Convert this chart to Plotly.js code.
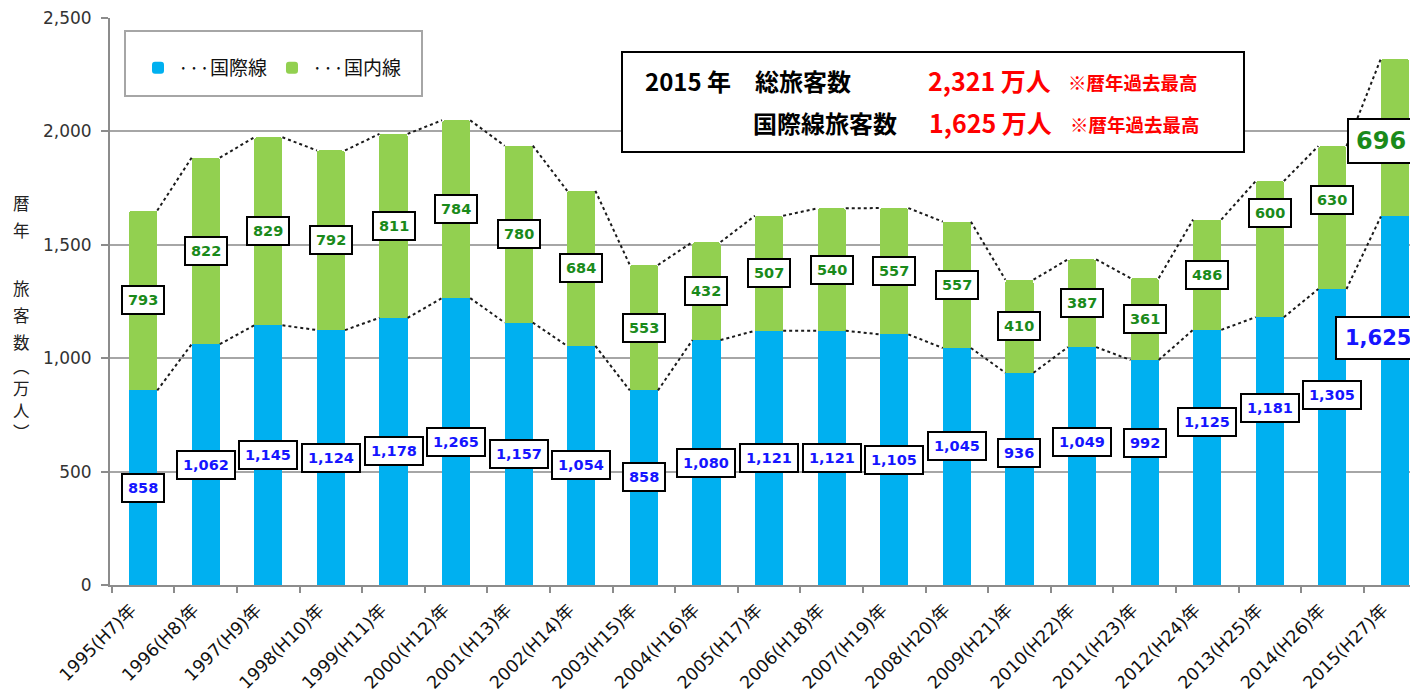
<!DOCTYPE html>
<html><head><meta charset="utf-8">
<script src="https://cdn.plot.ly/plotly-3.0.1.min.js"></script>
<style>html,body{margin:0;padding:0;background:#fff;}#chart{width:1410px;height:695px;}</style>
</head><body><div id="chart"></div>
<script>
// ---- data ----
const years = ['1995(H7)年','1996(H8)年','1997(H9)年','1998(H10)年','1999(H11)年','2000(H12)年','2001(H13)年','2002(H14)年','2003(H15)年','2004(H16)年','2005(H17)年','2006(H18)年','2007(H19)年','2008(H20)年','2009(H21)年','2010(H22)年','2011(H23)年','2012(H24)年','2013(H25)年','2014(H26)年','2015(H27)年'];
const international = [858,1062,1145,1124,1178,1265,1157,1054,858,1080,1121,1121,1105,1045,936,1049,992,1125,1181,1305,1625];
const domestic = [793,822,829,792,811,784,780,684,553,432,507,540,557,557,410,387,361,486,600,630,696];
const yTicks = [0,500,1000,1500,2000,2500];
const legendNames = ['···国際線','···国内線'];

// ---- label nudges (pixels, upward) ----
const intlNudge = [0,0,0,0,0,0,0,0,11,0,0,0,0,21,26,24,30,35,43,42,63];
const domNudge  = [0,0,0,0,0,0,0,0,0,0,0,0,0,0,0,0,0,0,36,18,-3];

const n = years.length;
const idx = years.map((_, i) => i);
const totals = international.map((v, i) => v + domestic[i]);
const BW = 0.45;
const fmt = v => v.toLocaleString('en-US');

function seriesLine(vals) {
  const xs = [], ys = [];
  for (let i = 0; i < n - 1; i++) {
    xs.push(i + BW / 2, i + 1 - BW / 2, null);
    ys.push(vals[i], vals[i + 1], null);
  }
  return {type: 'scatter', mode: 'lines', x: xs, y: ys, showlegend: false, hoverinfo: 'skip',
          line: {color: '#1a1a1a', width: 2, dash: 'dot'}};
}

const traces = [
  {type: 'bar', x: idx, y: international, name: legendNames[0], width: BW, marker: {color: '#00B0F0'}},
  {type: 'bar', x: idx, y: domestic, name: legendNames[1], width: BW, marker: {color: '#92D050'}},
  seriesLine(international),
  seriesLine(totals)
];

const annotations = [];
const last = n - 1;
const labelFamily = '"DejaVu Sans", Verdana, sans-serif';
for (let i = 0; i < n; i++) {
  const big = i === last;
  annotations.push({
    x: i, y: international[i] / 2, xref: 'x', yref: 'y', showarrow: false,
    text: '<b>' + fmt(international[i]) + '</b>',
    font: {family: labelFamily, size: big ? 21 : 14.5, color: '#1515ff'},
    bgcolor: '#ffffff', bordercolor: '#000000', borderwidth: 2, borderpad: big ? 8 : 5,
    yshift: intlNudge[i], xshift: big ? -17 : 0
  });
  annotations.push({
    x: i, y: international[i] + domestic[i] / 2, xref: 'x', yref: 'y', showarrow: false,
    text: '<b>' + fmt(domestic[i]) + '</b>',
    font: {family: labelFamily, size: big ? 24 : 14.5, color: '#1a8a1a'},
    bgcolor: '#ffffff', bordercolor: '#000000', borderwidth: 2, borderpad: big ? 7 : 5,
    yshift: domNudge[i], xshift: big ? -14 : 0
  });
}

// pixel -> paper helpers (plot area: x 110..1410, y 18..585)
const PX = px => (px - 110) / 1300;
const PY = py => (585 - py) / 567;

// vertical y-axis title
const yTitle = [['暦',203],['年',230],['旅',288],['客',315],['数',342],['︵',366],['万',388],['人',410],['︶',432]];
yTitle.forEach(([ch, py]) => annotations.push({
  xref: 'paper', yref: 'paper', x: PX(21), y: PY(py), text: ch, showarrow: false,
  xanchor: 'center', yanchor: 'middle',
  font: {family: 'Noto Sans CJK JP', size: 16.5, color: '#222'}
}));

// info box texts
const boxFont = (size, color) => ({family: 'Noto Sans CJK JP', size: size, color: color});
const boxTexts = [
  ['<b>2015 年</b>', 643, 80, 24, '#000'],
  ['<b>総旅客数</b>', 753, 80, 24, '#000'],
  ['<b>2,321 万人</b>', 926, 80, 25, '#ff0000'],
  ['<b>※暦年過去最高</b>', 1066, 82, 18.5, '#ff0000'],
  ['<b>国際線旅客数</b>', 751, 122, 24, '#000'],
  ['<b>1,625 万人</b>', 927, 122, 25, '#ff0000'],
  ['<b>※暦年過去最高</b>', 1068, 124, 18.5, '#ff0000']
];
boxTexts.forEach(([t, px, py, s, c]) => annotations.push({
  xref: 'paper', yref: 'paper', x: PX(px), y: PY(py), text: t, showarrow: false,
  xanchor: 'left', yanchor: 'middle', font: boxFont(s, c)
}));

const layout = {
  width: 1410, height: 695,
  margin: {l: 110, r: 0, t: 18, b: 110},
  paper_bgcolor: '#ffffff', plot_bgcolor: '#ffffff',
  barmode: 'stack', barcornerradius: 3,
  showlegend: true,
  legend: {orientation: 'h', x: PX(138), y: PY(68), xanchor: 'left', yanchor: 'middle',
           bgcolor: 'rgba(0,0,0,0)', borderwidth: 0,
           font: {family: 'Noto Sans CJK JP', size: 19, color: '#111'}, traceorder: 'normal',
           itemwidth: 30},
  xaxis: {
    type: 'linear', range: [-0.53, 20.24], tickvals: idx, ticktext: years,
    tickangle: -45, ticks: '', showgrid: false, zeroline: false,
    showline: true, linecolor: '#8c8c8c', linewidth: 2,
    ticklabelshift: -12, ticklabelstandoff: 6,
    tickfont: {family: '"DejaVu Sans", "Noto Sans CJK JP"', size: 17.5, color: '#111'},
    minor: {ticks: 'outside', tick0: 0.5, dtick: 1, ticklen: 6, tickwidth: 2, tickcolor: '#8c8c8c', showgrid: false}
  },
  yaxis: {
    range: [0, 2500], tickvals: yTicks, tickformat: ',', ticks: 'outside', ticklen: 7, tickwidth: 2,
    tickcolor: '#8c8c8c', showline: true, linecolor: '#8c8c8c', linewidth: 2, ticklabelstandoff: 6,
    showgrid: true, gridcolor: '#a6a6a6', gridwidth: 2, zeroline: false,
    tickfont: {family: '"DejaVu Sans", Verdana, sans-serif', size: 17, color: '#333'}
  },
  shapes: [
    {type: 'rect', xref: 'paper', yref: 'paper', x0: PX(125), x1: PX(422), y0: PY(96), y1: PY(31),
     line: {color: '#a6a6a6', width: 2}, fillcolor: '#ffffff', layer: 'below'},
    {type: 'rect', xref: 'paper', yref: 'paper', x0: PX(622), x1: PX(1244), y0: PY(152), y1: PY(52),
     line: {color: '#000000', width: 2}, fillcolor: '#ffffff', layer: 'above'}
  ],
  annotations: annotations
};

Plotly.newPlot('chart', traces, layout, {displayModeBar: false, staticPlot: true});
</script></body></html>
